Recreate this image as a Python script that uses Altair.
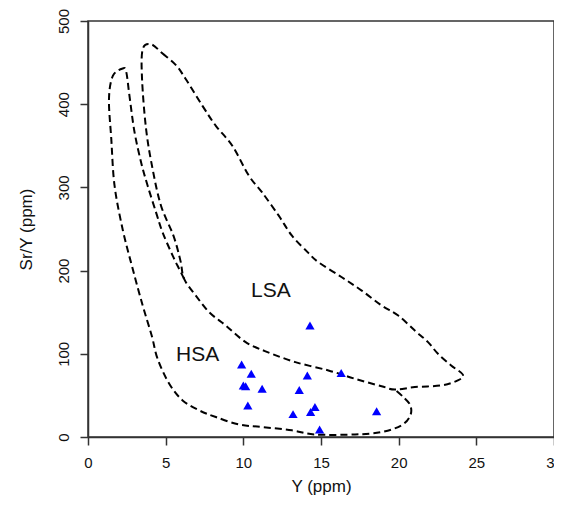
import altair as alt
import pandas as pd

# Sample points (Y ppm, Sr/Y)
pt_x = [14.29, 9.89, 10.51, 10.15, 10.0, 11.21, 14.12, 16.3, 13.6, 10.29, 14.61, 13.2, 14.33, 18.58, 14.91]
pt_y = [134, 87, 76, 61, 62, 58, 74, 77, 56.5, 38, 36, 27.5, 30, 31, 9]

# LSA field outline (closed)
lsa_x = [4.06, 4.8, 5.66, 6.3, 7.37, 8.23, 9.29, 10.36, 11.21, 12.28, 13.13, 14.2, 14.84,
         16.34, 17.62, 18.9, 19.97, 21.04, 21.89, 22.53, 23.38, 24.13, 23.81, 22.74, 21.04,
         19.76, 18.9, 17.19, 15.48, 13.35, 11.43, 10.15, 8.87, 7.8, 6.94, 6.19, 5.95, 5.5,
         4.7, 4.16, 3.74, 3.48, 3.52]
lsa_y = [472, 461, 447, 430, 398, 374, 350, 314, 294, 266, 242, 221, 210,
         192, 176, 158, 146, 128, 114, 100, 86, 75, 68, 62, 60,
         57, 61, 70, 80, 90, 103, 114, 134, 150, 170, 190, 212, 242,
         278, 322, 370, 430, 466]

# HSA field outline (open part; its upper-right edge is shared with LSA)
hsa_x = [6.19, 5.87, 5.45, 4.8, 4.38, 3.84, 3.42, 2.99, 2.67, 2.46, 2.24, 1.6, 1.35, 1.5,
         1.71, 2.25, 2.88, 3.52, 4.1, 4.48, 5.23, 6.09, 7.16, 8.23, 9.72, 11.21, 13.13,
         14.63, 17.19, 18.9, 20.18, 20.75, 20.75, 20.3, 19.76]
hsa_y = [190, 202, 218, 246, 270, 302, 330, 367, 410, 439, 443, 434, 406, 358,
         302, 248, 202, 158, 122, 94, 64, 44, 32, 24, 15, 12, 8,
         3, 3, 6, 14, 26, 38, 48, 57]

label_text = ["LSA", "HSA"]
label_x = [11.77, 7.06]
label_y = [176, 98]

x_ticks = [0, 5, 10, 15, 20, 25, 30]
y_ticks = [0, 100, 200, 300, 400, 500]

pts = pd.DataFrame({"x": pt_x, "y": pt_y})
lsa = pd.DataFrame({"x": lsa_x, "y": lsa_y, "i": range(len(lsa_x))})
hsa = pd.DataFrame({"x": hsa_x, "y": hsa_y, "i": range(len(hsa_x))})
labels = pd.DataFrame({"t": label_text, "x": label_x, "y": label_y})

xs = alt.Scale(domain=[0, 30], nice=False, zero=False)
ys = alt.Scale(domain=[0, 500], nice=False, zero=False)

xax = alt.Axis(values=x_ticks, title="Y (ppm)", grid=False, labelFlush=False,
               tickSize=8, labelPadding=10, titlePadding=8)
yax = alt.Axis(values=y_ticks, title="Sr/Y (ppm)", grid=False, labelFlush=False,
               tickSize=8, labelAngle=270, labelAlign="center", labelBaseline="alphabetic",
               labelPadding=12, titlePadding=21)

dash = dict(color="black", strokeWidth=2, strokeDash=[7, 4])

lsa_line = alt.Chart(lsa).mark_line(interpolate="cardinal-closed", **dash).encode(
    x=alt.X("x:Q", scale=xs, axis=xax),
    y=alt.Y("y:Q", scale=ys, axis=yax),
    order="i:Q",
)

hsa_line = alt.Chart(hsa).mark_line(interpolate="cardinal", **dash).encode(
    x=alt.X("x:Q", scale=xs),
    y=alt.Y("y:Q", scale=ys),
    order="i:Q",
)

points = alt.Chart(pts).mark_point(
    shape="triangle-up", filled=True, color="#0000ff", size=85, opacity=1
).encode(x=alt.X("x:Q", scale=xs), y=alt.Y("y:Q", scale=ys))

text = alt.Chart(labels).mark_text(
    fontSize=21, font="Liberation Sans", color="#111"
).encode(x=alt.X("x:Q", scale=xs), y=alt.Y("y:Q", scale=ys), text="t:N")

chart = alt.layer(lsa_line, hsa_line, points, text).properties(
    width=466, height=416,
    autosize=alt.AutoSizeParams(type="none"),
    padding={"left": 80, "top": 13, "right": 0, "bottom": 63},
).configure_view(
    stroke="#333", strokeWidth=1.5
).configure_axis(
    labelFont="Liberation Sans", titleFont="Liberation Sans",
    labelFontSize=15, titleFontSize=17, titleFontWeight="normal",
    labelColor="#111", titleColor="#111",
    domainColor="#333", domainWidth=1.5, tickColor="#333", tickWidth=1.5,
)

chart.save("out.html", embed_options={"renderer": "svg", "actions": False})
